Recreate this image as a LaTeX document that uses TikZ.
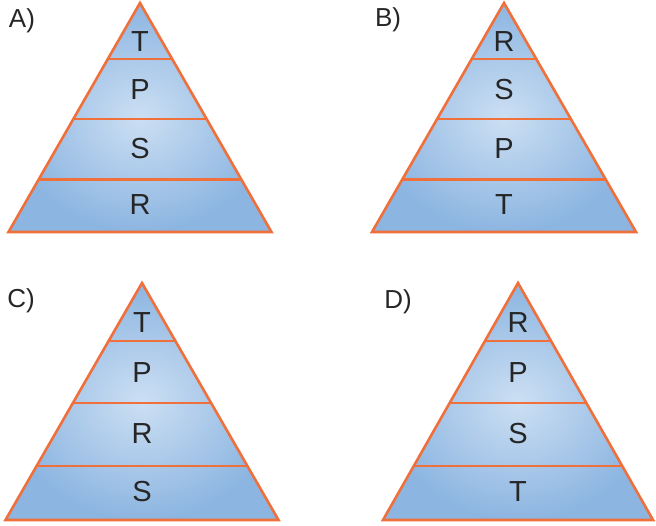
\documentclass[tikz,border=0pt]{standalone}
\usepackage{fontspec}
\setmainfont{Liberation Sans}
\usetikzlibrary{calc}
\definecolor{rimorange}{HTML}{F0703C}
\definecolor{bandlight}{HTML}{CCDFF3}
\definecolor{banddark}{HTML}{8CB5E1}
\definecolor{inkgray}{HTML}{262626}

\begin{document}
\begin{tikzpicture}[
    x=1pt, y=-1pt,
    rim/.style={draw=rimorange, line width=2.6pt, line join=miter},
    band/.style={inner color=bandlight, outer color=banddark},
    level/.style={font=\fontsize{29}{32}\selectfont, text=inkgray, inner sep=0pt},
    tag/.style={font=\fontsize{26}{30}\selectfont, text=inkgray, inner sep=0pt}
]
\useasboundingbox (0,0) rectangle (656,526);
\foreach \p/\tagtext/\ax/\ay/\hw/\h/\la/\lb/\lc/\ld/\tx/\ty in {
  a/A)/140/3/131.5/229/T/P/S/R/22/21,
  b/B)/504/3/132/229/R/S/P/T/388/20,
  c/C)/142/283/136.5/237/T/P/R/S/21/301,
  d/D)/518/283/135/237/R/P/S/T/398/302}{
    % corners of the pyramid
    \coordinate (\p-top) at (\ax,\ay);
    \coordinate (\p-left) at (\ax-\hw,\ay+\h);
    \coordinate (\p-right) at (\ax+\hw,\ay+\h);
    \shade[band] (\p-top) -- (\p-right) -- (\p-left) -- cycle;
    % separators between the levels
    \foreach \f in {0.245,0.507,0.772}{
        \draw[rim] (\ax-\f*\hw,\ay+\f*\h) -- (\ax+\f*\hw,\ay+\f*\h);
    }
    \draw[rim] (\p-top) -- (\p-right) -- (\p-left) -- cycle;
    \node[level] (\p-1) at (\ax,\ay+0.168*\h) {\la};
    \node[level] (\p-2) at (\ax,\ay+0.376*\h) {\lb};
    \node[level] (\p-3) at (\ax,\ay+0.635*\h) {\lc};
    \node[level] (\p-4) at (\ax,\ay+0.88*\h) {\ld};
    \node[tag] (\p-tag) at (\tx,\ty) {\tagtext};
}
\end{tikzpicture}
\end{document}
